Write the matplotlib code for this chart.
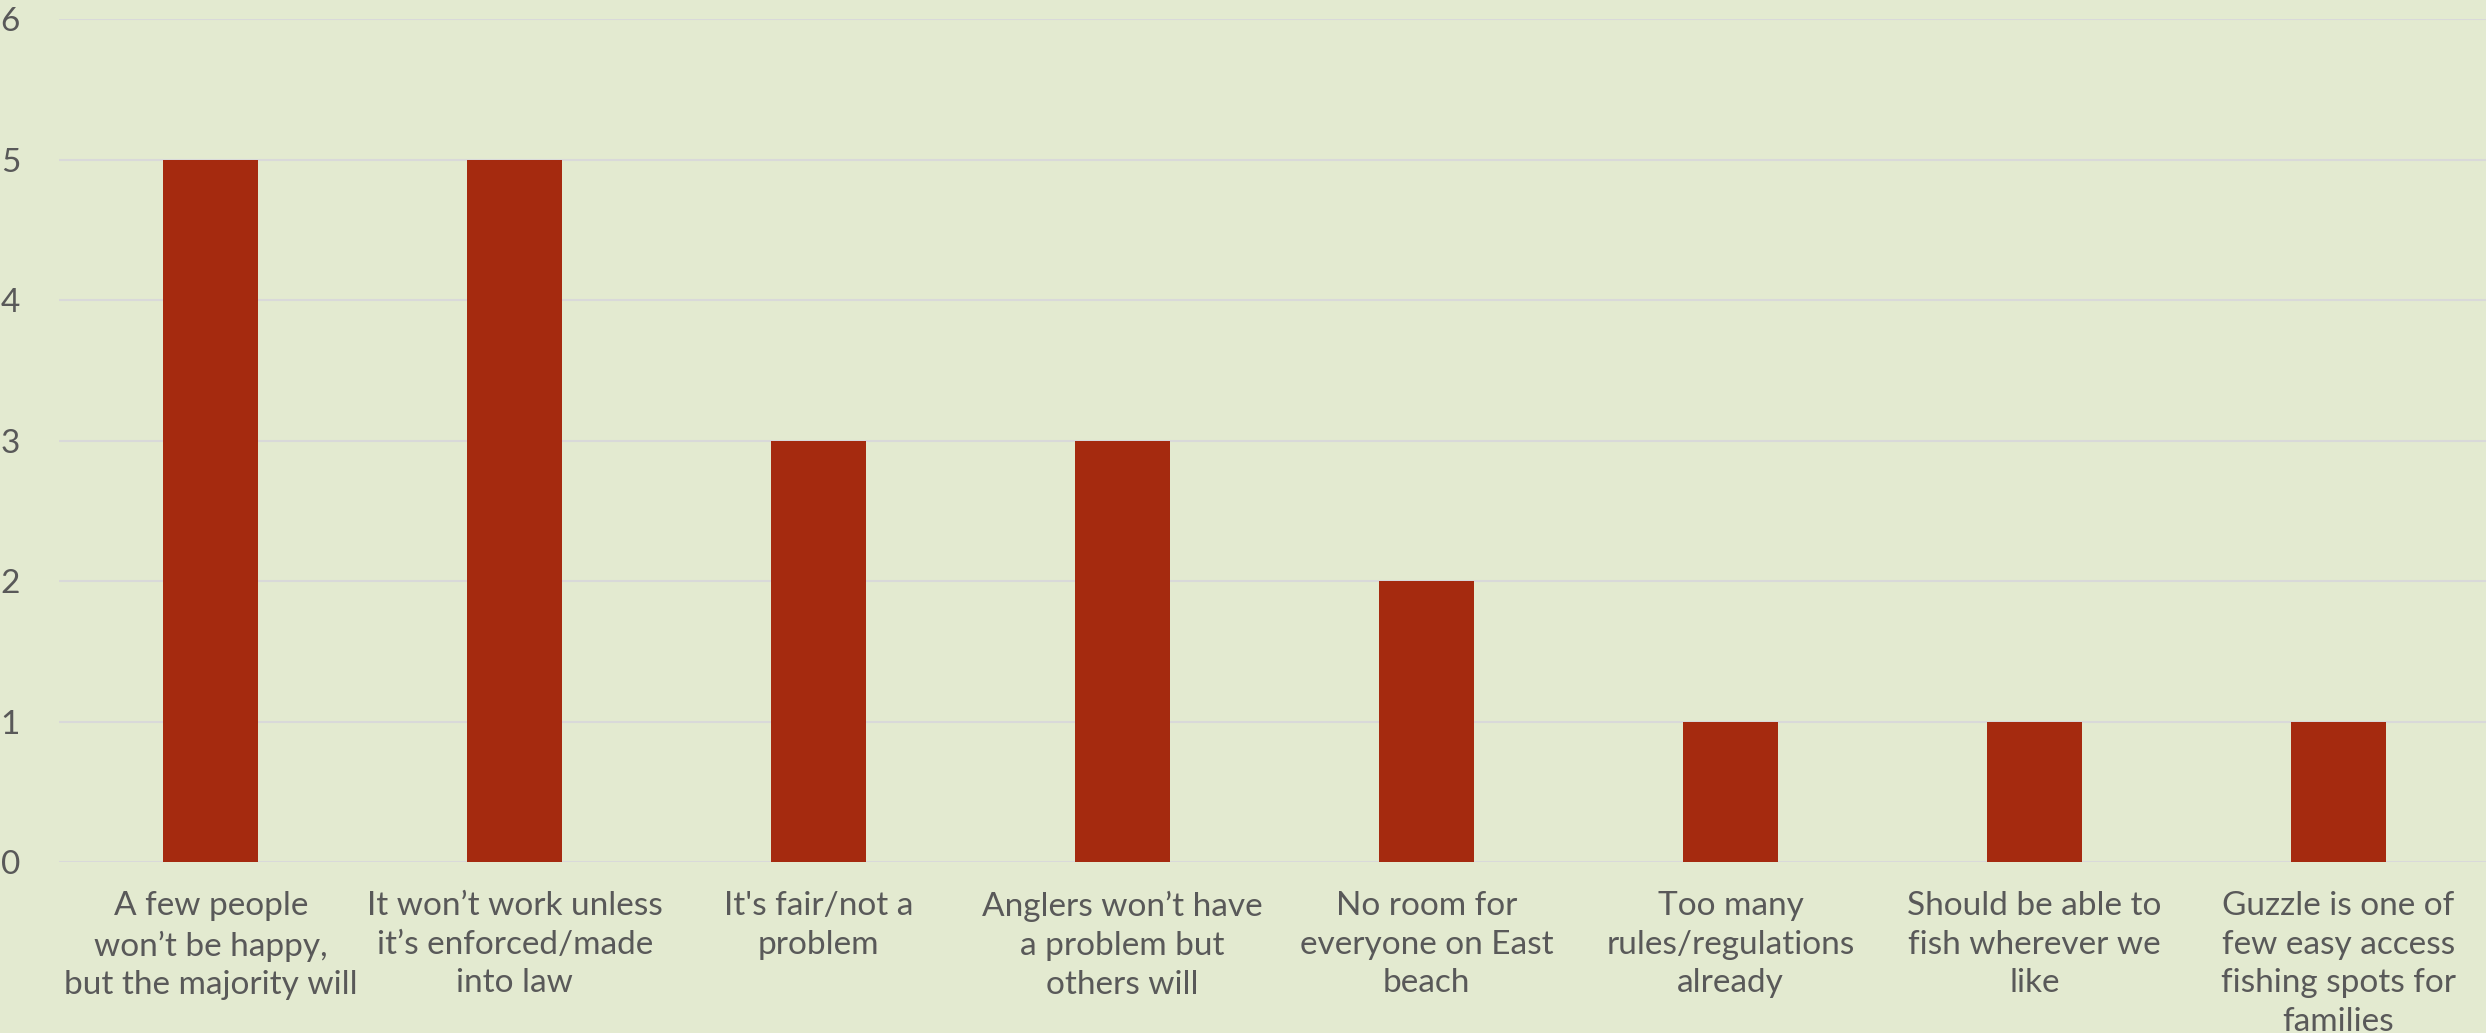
import matplotlib.pyplot as plt
import numpy as np

categories = [
    "A few people\nwon’t be happy,\nbut the majority will",
    "It won’t work unless\nit’s enforced/made\ninto law",
    "It's fair/not a\nproblem",
    "Anglers won’t have\na problem but\nothers will",
    "No room for\neveryone on East\nbeach",
    "Too many\nrules/regulations\nalready",
    "Should be able to\nfish wherever we\nlike",
    "Guzzle is one of\nfew easy access\nfishing spots for\nfamilies",
]
counts = [5, 5, 3, 3, 2, 1, 1, 1]
y_ticks = [0, 1, 2, 3, 4, 5, 6]

bg = "#E3EAD0"
bar_color = "#A52A0F"
text_color = "#595959"

plt.rcParams['font.family'] = ['Lato', 'DejaVu Sans']

fig = plt.figure(figsize=(24.86, 10.33), dpi=100, facecolor=bg)
ax = fig.add_axes([0.0237, 0.1655, 0.978, 0.8161])
ax.set_facecolor(bg)

x = np.arange(len(categories))
ax.bar(x, counts, width=0.313, color=bar_color, zorder=3)

ax.set_xlim(-0.5, len(categories) - 0.5)
ax.set_ylim(0, 6)
ax.set_yticks(y_ticks)
ax.set_xticks(x)
ax.set_xticklabels(categories, fontsize=24, color=text_color, linespacing=1.36)
ax.tick_params(axis='y', labelsize=24, labelcolor=text_color, length=0, pad=28)
ax.tick_params(axis='x', length=0, pad=21)
ax.grid(axis='y', color="#D9D9D9", linewidth=1.5, zorder=0)
for s in ax.spines.values():
    s.set_visible(False)
ax.set_axisbelow(True)

fig.savefig("out.png", dpi=100, facecolor=bg)
